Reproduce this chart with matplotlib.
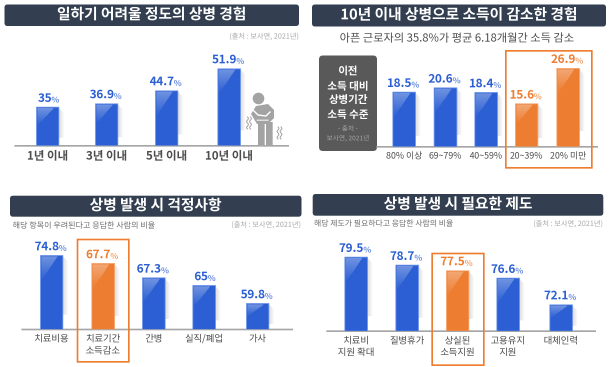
import io
import numpy as np
import matplotlib
matplotlib.use('Agg')
import matplotlib.pyplot as plt
from matplotlib.patches import FancyBboxPatch, Polygon, Rectangle, Circle

plt.rcParams['font.family'] = ['Noto Sans CJK KR', 'DejaVu Sans']

W, H = 610, 367
BLUE = '#2b5fd3'
ORANGE = '#ed7d31'
NAVY = '#333f50'
TEXT = '#4d4d4d'

# data
cats1 = ['1년 이내', '3년 이내', '5년 이내', '10년 이내']
vals1 = [35, 36.9, 44.7, 51.9]
cats2 = ['80% 이상', '69~79%', '40~59%', '20~39%', '20% 미만']
vals2 = [18.5, 20.6, 18.4, 15.6, 26.9]
cats3 = ['치료비용', '치료기간\n소득감소', '간병', '실직/폐업', '가사']
vals3 = [74.8, 67.7, 67.3, 65, 59.8]
cats4 = ['치료비\n지원 확대', '질병휴가', '상실된\n소득지원', '고용유지\n지원', '대체인력']
vals4 = [79.5, 78.7, 77.5, 76.6, 72.1]

fig = plt.figure(figsize=(W / 100, H / 100), dpi=100)

# full figure axes in pixels, one below the charts and one above
bg = fig.add_axes([0, 0, 1, 1], zorder=0)
top = fig.add_axes([0, 0, 1, 1], zorder=5)
for a in (bg, top):
    a.set_xlim(0, W)
    a.set_ylim(H, 0)
    a.axis('off')
    a.patch.set_alpha(0)


def header(x0, x1, y0, y1, title):
    bg.add_patch(FancyBboxPatch((x0 + 3, y0 + 3), x1 - x0 - 6, y1 - y0 - 6,
                                boxstyle='round,pad=3', fc=NAVY, ec='none'))
    bg.text((x0 + x1) / 2, (y0 + y1) / 2 - 0.5, title, color='white', fontsize=10.6,
            fontweight='bold', ha='center', va='center')


def panel(cats, vals, xs, x0, x1, base, scale_v, scale_h, orange=(), tick_size=6.8,
          tick_weight='normal', val_size=8.5):
    # the source's bars are not drawn in proportion, so each chart gets its own y scale
    ax = fig.add_axes([x0 / W, 1 - base / H, (x1 - x0) / W, 100 / H], zorder=2)
    ax.patch.set_alpha(0)
    fwd = lambda v: np.interp(v, scale_v, scale_h)
    inv = lambda h: np.interp(h, scale_h, scale_v)
    ax.set_yscale('function', functions=(fwd, inv))
    ax.set_xlim(x0, x1)
    ax.set_ylim(scale_v[0], scale_v[-1])
    colors = [ORANGE if i in orange else BLUE for i in range(len(vals))]
    edges = ['#f4a36b' if i in orange else '#6f96ea' for i in range(len(vals))]
    bars = ax.bar(xs, vals, width=22.5, color=colors, edgecolor=edges, linewidth=0.6, zorder=3)
    for s in ('top', 'left', 'right'):
        ax.spines[s].set_visible(False)
    ax.spines['bottom'].set_color('#a6a6a6')
    ax.spines['bottom'].set_linewidth(1.2)
    ax.set_yticks([])
    ax.minorticks_off()
    ax.set_xticks(xs)
    ax.set_xticklabels(cats, fontsize=tick_size, color=TEXT, fontweight=tick_weight, linespacing=1.25)
    ax.tick_params(axis='x', length=0, pad=3.5)

    fig.canvas.draw()
    for b, x, v, c in zip(bars, xs, vals, colors):
        # value label, the percent sign is smaller and paler
        num = f'{v:g}'
        split = x + (4 if len(num) < 3 else 7.5)
        ax.annotate(num, (split, v), xytext=(0, 2), textcoords='offset points', ha='right',
                    va='bottom', color=c, fontsize=val_size, fontweight='bold')
        ax.annotate('%', (split - 0.5, v), xytext=(0, 2), textcoords='offset points', ha='left',
                    va='bottom', color=c, fontsize=6, fontweight='bold', alpha=0.7)
        # shine fading downwards and side shadow fading outwards
        ext = b.get_window_extent()
        bx0, bx1, ty = ext.x0, ext.x1, H - ext.y1
        w = bx1 - bx0
        sh = min(ext.height * 0.45, 24)
        for r in np.arange(0, sh, 1.0):
            f = 1 - r / sh
            top.add_patch(Rectangle((bx0 + 1, ty + 1 + r), w * 0.72 * f, 1, fc='white', ec='none',
                                    alpha=0.32 * f, antialiased=False))
        for d in np.arange(0, 5, 1.0):
            g = 1 - d / 5
            bg.add_patch(Polygon([(bx1 + d, ty + 1 + d), (bx1 + d + 1, ty + 2 + d),
                                  (bx1 + d + 1, ty + ext.height * 0.8), (bx1 + d, ty + ext.height * 0.8)],
                                 fc='#cfcfcf', ec='none', alpha=0.7 * g))
    return ax


def source(x, y, ha='right'):
    bg.text(x, y, '(출처 : 보사연, 2021년)', fontsize=5.2, color='#a8a8a8', ha=ha, va='center')


def frame(x0, y0, x1, y1):
    top.add_patch(Rectangle((x0, y0), x1 - x0, y1 - y0, fc='none', ec=ORANGE, lw=1.2))


# panel 1
header(4.5, 299, 4.5, 26, '일하기 어려울 정도의 상병 경험')
source(299, 36.5)
panel(cats1, vals1, [47.5, 106.5, 166.5, 229], 15, 288, 145.5,
      [0, 35, 36.9, 44.7, 51.9, 70], [0, 38.5, 42, 55, 77, 100],
      tick_size=8.3, tick_weight='bold')

# sick person icon
ICON = '#a3a3a3'
bg.add_patch(Circle((258.5, 98.5), 5.8, fc=ICON, ec='none'))
bg.add_patch(Polygon([(256, 106), (268, 104), (274, 110), (274, 118), (268, 124), (257, 124), (251, 114)],
                     fc=ICON, ec='none'))
bg.add_patch(Rectangle((258, 122), 6.5, 23.5, fc=ICON, ec='none'))
bg.add_patch(Rectangle((266, 122), 6.5, 23.5, fc=ICON, ec='none'))
bg.plot([253, 258, 266, 270], [110, 115, 116, 112], color='white', lw=1)
bg.plot([257, 268], [120, 120], color='white', lw=0.7)
for sx, sy in ((247.5, 117), (250.5, 117), (278, 127), (281, 127)):
    t = np.linspace(0, 1, 30)
    bg.plot(sx + 0.9 * np.sin(t * 4 * np.pi), sy + t * 12, color='#a0a0a0', lw=0.7)

# panel 2
header(312, 606, 4.5, 26.5, '10년 이내 상병으로 소득이 감소한 경험')
bg.text(457, 38.5, '아픈 근로자의 35.8%가 평균 6.18개월간 소득 감소', fontsize=8.1, color=TEXT,
        fontweight='medium', ha='center', va='center')
panel(cats2, vals2, [404, 445.3, 486, 526.5, 568], 377, 597, 146.7,
      [0, 15.6, 18.4, 18.5, 20.6, 26.9, 40], [0, 43, 54.4, 54.6, 59, 78.5, 100],
      orange=(3, 4), tick_size=6.4)
frame(505.5, 50.7, 591.7, 167.7)
bg.add_patch(FancyBboxPatch((323, 59.5), 50, 87.5, boxstyle='round,pad=4', fc='#595959', ec='none'))
for yy, s in zip((71.5, 86.5, 100, 115), ('이전', '소득 대비', '상병기간', '소득 수준')):
    bg.text(348, yy, s, color='white', fontsize=7.6, fontweight='bold', ha='center', va='center')
bg.text(348, 129, '- 출처 -', color='#a6a6a6', fontsize=4.8, ha='center', va='center')
bg.text(348, 138.5, '보사연, 2021년', color='#a6a6a6', fontsize=4.8, ha='center', va='center')

# panel 3
header(10, 301.5, 195.7, 216.7, '상병 발생 시 걱정사항')
bg.text(12.5, 225.5, '해당 항목이 우려된다고 응답한 사람의 비율', fontsize=5.8, color='#6e6e6e', ha='left', va='center')
source(301, 225)
panel(cats3, vals3, [51.5, 103, 153.7, 204, 257.5], 22, 292, 329.3,
      [0, 59.8, 65, 67.3, 67.7, 74.8, 90], [0, 26, 44, 51.5, 66, 74, 100],
      orange=(1,))
frame(77.3, 239.3, 128.7, 361.7)

# panel 4
header(312.7, 603.3, 194, 215.7, '상병 발생 시 필요한 제도')
bg.text(314, 224, '해당 제도가 필요하다고 응답한 사람의 비율', fontsize=5.7, color='#6e6e6e', ha='left', va='center')
source(603, 224)
panel(cats4, vals4, [356, 407, 457.5, 508, 561], 327, 595, 331,
      [0, 72.1, 76.6, 77.5, 78.7, 79.5, 90], [0, 26.5, 53, 60.5, 66, 74, 100],
      orange=(2,))
frame(432, 253.3, 483.7, 365)

# render large and shrink, the source picture is soft
buf = io.BytesIO()
fig.savefig(buf, dpi=300, format='rgba')
big = np.frombuffer(buf.getvalue(), dtype=np.uint8).reshape(H * 3, W * 3, 4)
small = big.reshape(H, 3, W, 3, 4).mean(axis=(1, 3)).astype(np.uint8)
plt.imsave('out.png', small)
